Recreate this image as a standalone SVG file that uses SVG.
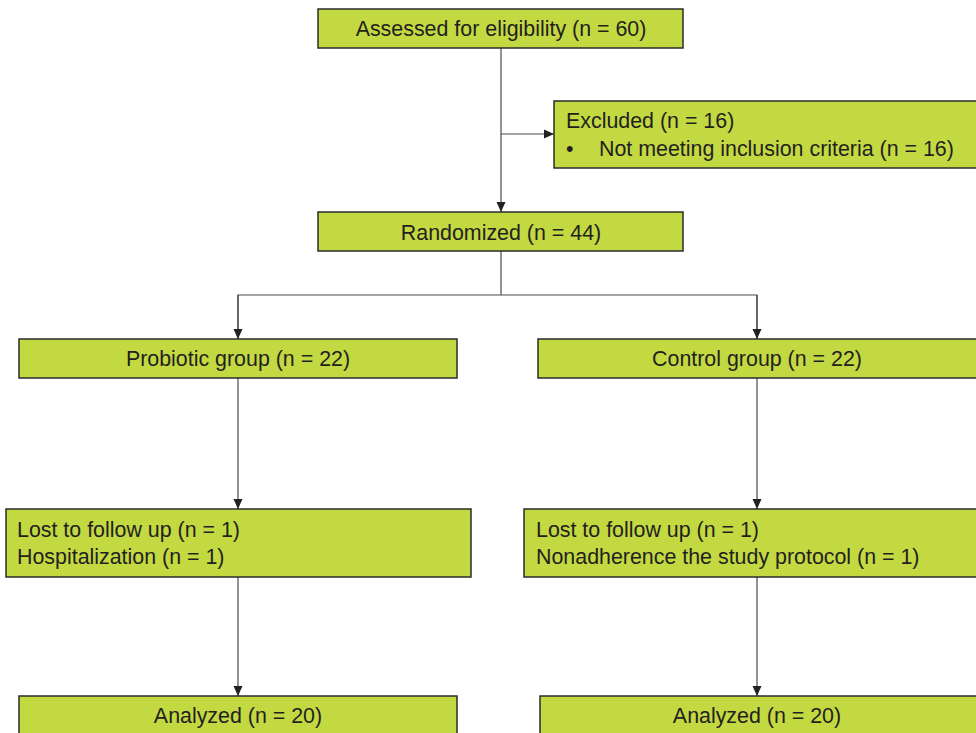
<svg xmlns="http://www.w3.org/2000/svg" width="976" height="733" viewBox="0 0 976 733">
<style>
.box{fill:#c3d941;stroke:#2b2b2b;stroke-width:1.5}
.t{font-family:"Liberation Sans",Arial,sans-serif;font-size:21.4px;fill:#231f20}
.c{text-anchor:middle}
.ln{fill:none;stroke:#4a4a4a;stroke-width:1.2}
</style>
<defs>
<marker id="ah" markerUnits="userSpaceOnUse" markerWidth="10" markerHeight="10" viewBox="0 0 10 10" refX="10" refY="5" orient="auto">
<path d="M0,0.5 L10,5 L0,9.5 z" fill="#222"/>
</marker>
</defs>
<g id="connectors">
<line class="ln" x1="501" y1="48" x2="501" y2="212" marker-end="url(#ah)"/>
<line class="ln" x1="501" y1="134" x2="554" y2="134" marker-end="url(#ah)"/>
<polyline class="ln" points="501,251 501,295"/>
<polyline class="ln" points="238,339 238,295 757,295 757,339"/>
<line class="ln" x1="238" y1="295" x2="238" y2="339" marker-end="url(#ah)"/>
<line class="ln" x1="757" y1="295" x2="757" y2="339" marker-end="url(#ah)"/>
<line class="ln" x1="238" y1="378" x2="238" y2="509" marker-end="url(#ah)"/>
<line class="ln" x1="757" y1="378" x2="757" y2="509" marker-end="url(#ah)"/>
<line class="ln" x1="238" y1="577" x2="238" y2="696" marker-end="url(#ah)"/>
<line class="ln" x1="757" y1="577" x2="757" y2="696" marker-end="url(#ah)"/>
</g>
<g id="assessed">
<rect class="box" x="318" y="9" width="365" height="39"/>
<text class="t c" x="501" y="36">Assessed for eligibility (n = 60)</text>
</g>
<g id="excluded">
<rect class="box" x="554" y="101" width="430" height="67"/>
<text class="t" x="566" y="128">Excluded (n = 16)</text>
<text class="t" x="566" y="156">•</text>
<text class="t" x="599" y="156">Not meeting inclusion criteria (n = 16)</text>
</g>
<g id="randomized">
<rect class="box" x="318" y="212" width="365" height="39"/>
<text class="t c" x="501" y="240">Randomized (n = 44)</text>
</g>
<g id="probiotic">
<rect class="box" x="19" y="339" width="438" height="39"/>
<text class="t c" x="238" y="366">Probiotic group (n = 22)</text>
</g>
<g id="control">
<rect class="box" x="538" y="339" width="446" height="39"/>
<text class="t c" x="757" y="366">Control group (n = 22)</text>
</g>
<g id="lost-probiotic">
<rect class="box" x="6" y="509" width="465" height="68"/>
<text class="t" x="17" y="537">Lost to follow up (n = 1)</text>
<text class="t" x="17" y="564">Hospitalization (n = 1)</text>
</g>
<g id="lost-control">
<rect class="box" x="524" y="509" width="466" height="68"/>
<text class="t" x="536" y="537">Lost to follow up (n = 1)</text>
<text class="t" x="536" y="564">Nonadherence the study protocol (n = 1)</text>
</g>
<g id="analyzed-probiotic">
<rect class="box" x="19" y="696" width="438" height="50"/>
<text class="t c" x="238" y="723">Analyzed (n = 20)</text>
</g>
<g id="analyzed-control">
<rect class="box" x="540" y="696" width="444" height="50"/>
<text class="t c" x="757" y="723">Analyzed (n = 20)</text>
</g>
</svg>
